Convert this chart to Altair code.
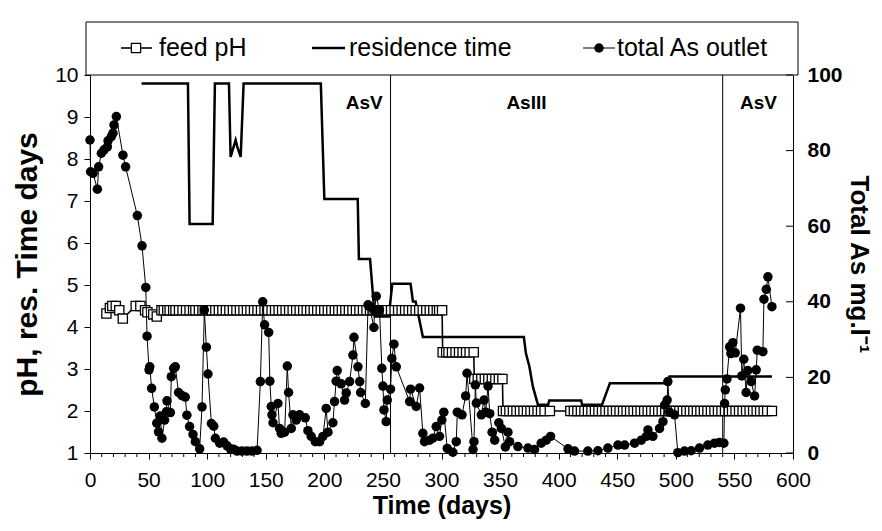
import altair as alt
import pandas as pd

# ---------------- data ----------------
# total As at the outlet (mg/l), right axis
as_days = [0, 0.5, 2.6, 6.3, 7.4, 9.7, 12.0, 14.8, 15.4, 18.2, 19.6, 20.5, 22.5, 28.1, 30.4,
           40.4, 44.4, 47.6, 48.7, 50.4, 51.0, 52.6, 54.9, 57.0, 58.5, 60.0, 61.4, 63.7, 65.2,
           65.7, 68.6, 69.4, 71.4, 72.8, 75.6, 78.5, 81.3, 82.7, 85.0, 87.9, 89.9, 93.6, 95.6,
           97.6, 99.3, 100.7, 103.6, 105.6, 107.0, 110.7, 114.1, 117.0, 119.8, 122.5, 125.5,
           129.8, 134.0, 138.3, 142.6, 145.4, 147.4, 149.0, 152.5, 153.5, 154.7, 155.3, 156.2,
           160.4, 161.8, 163.2, 166.1, 168.4, 169.5, 171.8, 173.2, 176.0, 178.9, 183.7, 186.0,
           188.8, 192.3, 196.0, 198.8, 201.6, 203.1, 207.3, 208.7, 210.1, 211.0, 214.4, 217.3,
           218.7, 221.6, 224.4, 225.3, 228.7, 230.2, 231.0, 235.0, 237.3, 238.6, 242.3, 242.9,
           244.3, 247.1, 249.1, 250.0, 250.9, 252.8, 253.7, 256.5, 257.6, 259.4, 261.4, 272.8,
           273.6, 278.4, 281.3, 284.1, 285.5, 289.8, 292.6, 295.5, 298.3, 300.3, 302.0, 304.9,
           309.7, 312.6, 313.5, 317.5, 320.6, 321.8, 326.9, 327.7, 328.9, 329.7, 334.0, 336.3,
           337.7, 339.7, 341.2, 343.2, 345.4, 348.9, 351.1, 354.5, 356.7, 358.1, 365.2, 373.8,
           379.4, 385.1, 389.4, 393.1, 408.0, 413.5, 424.9, 433.5, 442.0, 450.6, 456.3, 464.8,
           470.5, 474.8, 476.2, 480.4, 486.1, 489.0, 490.4, 492.6, 493.2, 494.6, 498.9, 501.7,
           507.4, 513.1, 520.2, 527.3, 533.0, 537.3, 541.0, 541.6, 542.2, 543.6, 545.9, 547.0,
           548.7, 550.7, 555.2, 556.3, 558.0, 560.0, 561.4, 564.3, 567.2, 568.6, 569.5, 574.3,
           575.2, 577.2, 578.6, 582.0]
as_vals = [82.8, 74.4, 74.0, 69.8, 75.7, 79.3, 80.2, 81.0, 82.6, 83.7, 84.6, 86.8, 89.0, 78.8, 75.7,
           62.8, 54.8, 43.8, 30.9, 22.0, 22.8, 17.1, 12.2, 7.9, 5.6, 9.8, 3.9, 8.7, 10.9,
           13.8, 10.7, 20.2, 22.4, 22.8, 16.0, 15.2, 14.8, 10.0, 7.0, 4.9, 3.0, 1.1, 12.2,
           37.8, 28.0, 20.9, 7.8, 7.1, 3.9, 2.6, 2.9, 1.9, 1.1, 1.0, 0.5,
           0.5, 0.5, 0.5, 0.7, 18.9, 40.0, 33.9, 31.9, 19.0, 12.3, 10.1, 8.0,
           13.1, 6.5, 5.2, 5.5, 23.0, 16.0, 6.5, 10.1, 8.7, 10.1, 9.3, 5.9,
           4.4, 3.0, 3.0, 4.4, 11.8, 5.5, 8.0, 13.6, 19.0, 21.8, 18.3, 14.0,
           15.9, 18.9, 25.9, 30.6, 22.8, 18.9, 16.0, 13.1, 39.2, 38.7, 33.2, 37.8,
           41.5, 37.8, 22.4, 17.7, 11.4, 8.3, 14.0, 16.9, 25.0, 28.8, 22.8, 13.6,
           16.9, 12.3, 17.2, 5.2, 3.0, 3.4, 3.9, 7.0, 4.4, 8.7, 10.8, 1.2,
           0.2, 3.0, 10.8, 10.1, 15.1, 21.1, 0.9, 3.0, 18.0, 13.2, 10.1, 14.0,
           10.8, 17.7, 10.4, 5.5, 3.4, 8.0, 6.5, 1.6, 5.5, 3.0, 1.7, 1.3,
           0.9, 2.6, 3.4, 4.4, 1.1, 0.5, 0.5, 0.6, 1.3, 2.1, 2.1, 2.6,
           3.4, 4.4, 6.1, 4.4, 6.5, 8.3, 12.7, 14.0, 18.9, 10.8, 10.1, 0.1,
           0.5, 0.6, 1.3, 2.1, 2.6, 2.8, 2.6, 13.1, 16.7, 19.6, 28.1, 26.3,
           29.2, 26.5, 38.3, 20.4, 24.8, 16.0, 21.8, 18.9, 15.1, 22.0, 27.2, 26.8,
           40.7, 43.3, 46.6, 38.7]

# residence time (days), left axis
res_days = [44, 83.6, 85, 104.7, 106.6, 118.6, 120, 124.3, 125.7, 128.6, 131.1, 197, 200, 228.5,
            229.5, 239, 243, 255, 258, 273.6, 275.6, 277.9, 284.1, 370.3, 372, 375, 378, 382.3,
            391, 392, 419.2, 420, 437, 439, 443.7, 491.7, 494.6, 582]
res_vals = [9.8, 9.8, 6.45, 6.45, 9.8, 9.8, 8.05, 8.45, 8.29, 8.05, 9.8, 9.8, 7.05, 7.05,
            5.62, 5.62, 4.25, 4.25, 5.03, 5.03, 4.61, 4.61, 3.76, 3.76, 3.38, 3.06, 2.58, 2.15,
            2.15, 2.25, 2.25, 2.15, 2.15, 2.3, 2.66, 2.66, 2.82, 2.82]

# feed pH, left axis (early scattered values, then constant periods)
ph_early_days = [14, 17, 19, 22, 25, 28, 39, 43, 47, 49, 54, 57]
ph_early_vals = [4.32, 4.45, 4.5, 4.5, 4.4, 4.2, 4.5, 4.5, 4.4, 4.35, 4.3, 4.25]
ph44_days = [61, 63, 66, 68, 71, 73, 76, 79, 82, 85, 88, 90, 93, 96, 98, 101, 104, 107, 110, 113,
             116, 119, 122, 125, 128, 131, 134, 137, 140, 143, 146, 149, 152, 155, 158, 161, 164,
             167, 170, 173, 176, 179, 182, 185, 188, 191, 194, 197, 200, 203, 206, 209, 212, 215,
             218, 221, 224, 227, 230, 233, 236, 239, 242, 245, 248, 251, 254, 257, 260, 263, 266,
             269, 272, 275, 278, 281, 284, 287, 290, 293, 296, 298, 300.5]
ph34_days = [301, 304, 306, 309, 312, 315, 318, 321, 324, 327.5]
ph28_days = [328, 331, 334, 337, 340, 343, 346, 349, 352]
ph20_days = [352.5, 355, 358, 361, 364, 367, 370, 373, 376, 379, 382, 385, 388, 392.5,
             410, 413, 416, 419, 422, 425, 428, 431, 434, 437, 440, 443, 446, 449, 452, 455,
             458, 461, 464, 467, 470, 473, 476, 479, 482, 485, 488, 491, 494, 497, 500, 503,
             506, 509, 512, 515, 518, 521, 524, 527, 530, 533, 536, 539, 542, 545, 548, 551,
             554, 557, 560, 563, 566, 569, 572, 575, 578, 582]
ph_levels = [4.4, 3.4, 2.76, 2.0]

sep_days = [256.5, 540]
phase_labels = ["AsV", "AsIII", "AsV"]
phase_label_days = [234, 372.5, 570.5]
x_ticks = list(range(0, 601, 50))
x_minor = [d for d in range(0, 601, 10) if d % 50]
left_ticks = list(range(1, 11))
right_ticks = [0, 20, 40, 60, 80, 100]
legend_labels = ["feed pH", "residence time", "total As outlet"]

# ---------------- tables ----------------
as_df = pd.DataFrame({"day": as_days, "val": as_vals})
as_df["i"] = range(len(as_df))
res_df = pd.DataFrame({"day": res_days, "val": res_vals})
res_df["i"] = range(len(res_df))
ph_d = ph_early_days + ph44_days + ph34_days + ph28_days + ph20_days
ph_v = (ph_early_vals + [ph_levels[0]] * len(ph44_days) + [ph_levels[1]] * len(ph34_days)
        + [ph_levels[2]] * len(ph28_days) + [ph_levels[3]] * len(ph20_days))
ph_df = pd.DataFrame({"day": ph_d, "val": ph_v})
ph_df["i"] = range(len(ph_df))
sep_df = pd.DataFrame({"day": sep_days})
lab_df = pd.DataFrame({"day": phase_label_days, "t": phase_labels})
minor_df = pd.DataFrame({"day": x_minor})
rt_df = pd.DataFrame({"val": right_ticks})
one = pd.DataFrame({"a": [0]})

W, H = 703, 378
FONT = "Liberation Sans"
TICK_FS = 21

xs = alt.Scale(domain=[0, 600], nice=False, zero=False)
yl = alt.Scale(domain=[1, 10], nice=False, zero=False)
yr = alt.Scale(domain=[0, 100], nice=False, zero=True)

x_axis = alt.Axis(values=x_ticks, title="Time (days)", grid=False, tickSize=6,
                  labelFontSize=TICK_FS, labelPadding=10, titleFontSize=25,
                  titleFontWeight="bold", titlePadding=3, domainColor="black",
                  tickColor="black", labelColor="black", titleColor="black",
                  labelFlush=False)
left_axis = alt.Axis(values=left_ticks, orient="left", title="pH, res. Time days", grid=False,
                     tickSize=6, labelFontSize=TICK_FS, labelPadding=6, titleFontSize=30,
                     titleFontWeight="bold", titlePadding=12, domainColor="black",
                     tickColor="black", labelColor="black", titleColor="black")
right_axis = alt.Axis(values=right_ticks, orient="right", title="Total As mg.l⁻¹", grid=False,
                      ticks=False, labelFontSize=TICK_FS, labelFontWeight="bold",
                      labelPadding=14, titleFontSize=26, titleFontWeight="bold",
                      titlePadding=3, domainColor="black", labelColor="black",
                      titleColor="black")

X = alt.X("day:Q", scale=xs, axis=x_axis)
YL = alt.Y("val:Q", scale=yl, axis=left_axis)
YR = alt.Y("val:Q", scale=yr, axis=right_axis)

res_line = alt.Chart(res_df).mark_line(color="black", strokeWidth=2.5).encode(
    x=X, y=YL, order="i:Q")
ph_line = alt.Chart(ph_df).mark_line(color="black", strokeWidth=1.6).encode(
    x=X, y=YL, order="i:Q")
ph_pts = alt.Chart(ph_df).mark_point(shape="square", filled=True, fill="white", stroke="black",
                                     strokeWidth=1.3, size=85, opacity=1).encode(x=X, y=YL)
minor = alt.Chart(minor_df).mark_rule(color="black", strokeWidth=1).encode(
    x=X, y=alt.value(H), y2=alt.value(H + 4))
seps = alt.Chart(sep_df).mark_rule(color="black", strokeWidth=1).encode(
    x=X, y=alt.value(0), y2=alt.value(H))
labels = alt.Chart(lab_df).mark_text(fontSize=19, fontWeight="bold", color="black",
                                     font=FONT, baseline="middle").encode(
    x=X, y=alt.value(28), text="t:N")

# legend (drawn box)
LY = -27
leg_box = alt.Chart(one).mark_rect(fill="white", stroke="black", strokeWidth=1).encode(
    x=alt.value(-4), x2=alt.value(708), y=alt.value(-53), y2=alt.value(0))
leg_l1 = alt.Chart(one).mark_rule(color="black", strokeWidth=1.6).encode(
    x=alt.value(31), x2=alt.value(62), y=alt.value(LY))
leg_s1 = alt.Chart(one).mark_point(shape="square", filled=True, fill="white", stroke="black",
                                   strokeWidth=1.3, size=85, opacity=1).encode(
    x=alt.value(46), y=alt.value(LY))
leg_l2 = alt.Chart(one).mark_rule(color="black", strokeWidth=2.5).encode(
    x=alt.value(222), x2=alt.value(255), y=alt.value(LY))
leg_l3 = alt.Chart(one).mark_rule(color="black", strokeWidth=1).encode(
    x=alt.value(493), x2=alt.value(525), y=alt.value(LY))
leg_s3 = alt.Chart(one).mark_circle(color="black", size=90, opacity=1).encode(
    x=alt.value(509), y=alt.value(LY))
leg_txt = [
    alt.Chart(one).mark_text(text=legend_labels[k], align="left", baseline="middle",
                             fontSize=25, font=FONT, color="black").encode(
        x=alt.value(px), y=alt.value(LY))
    for k, px in enumerate([69, 259, 527])
]

left_group = alt.layer(res_line, minor, seps, ph_line, ph_pts, labels, leg_box, leg_l1,
                       leg_s1, leg_l2, leg_l3, leg_s3, *leg_txt)

as_line = alt.Chart(as_df).mark_line(color="black", strokeWidth=1).encode(
    x=X, y=YR, order="i:Q")
as_pts = alt.Chart(as_df).mark_circle(color="black", size=90, opacity=1).encode(x=X, y=YR)
rticks = alt.Chart(rt_df).mark_rule(color="black", strokeWidth=1).encode(
    x=alt.value(W - 7), x2=alt.value(W), y=YR)
right_group = alt.layer(as_line, as_pts, rticks)

chart = alt.layer(left_group, right_group).resolve_scale(y="independent").properties(
    width=W, height=H,
    autosize=alt.AutoSizeParams(type="none"),
    padding={"left": 82, "top": 67, "right": 81, "bottom": 70},
).configure(font=FONT).configure_view(stroke=None)

chart.save("out.html", embed_options={"renderer": "svg", "actions": False})
